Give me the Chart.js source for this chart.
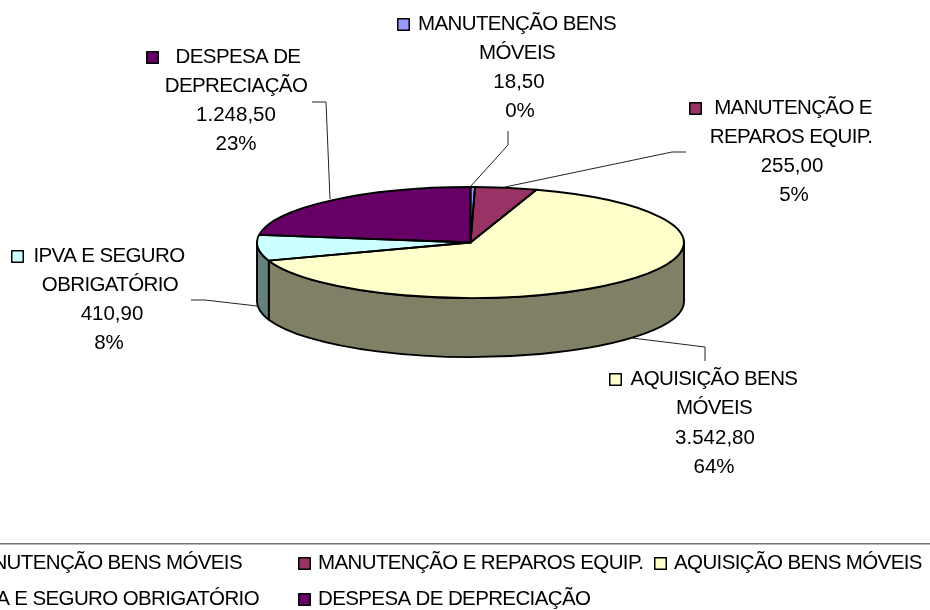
<!DOCTYPE html>
<html>
<head>
<meta charset="utf-8">
<style>
  html, body { margin: 0; padding: 0; background: #fff; }
  #wrap { width: 930px; height: 610px; }
</style>
<script src="https://cdn.jsdelivr.net/npm/chart.js@4"></script>
</head>
<body>
<div id="wrap"><canvas id="pieChart" width="930" height="610"></canvas></div>
<script>
const categories = ['MANUTENÇÃO BENS MÓVEIS', 'MANUTENÇÃO E REPAROS EQUIP.', 'AQUISIÇÃO BENS MÓVEIS', 'IPVA E SEGURO OBRIGATÓRIO', 'DESPESA DE DEPRECIAÇÃO'];
const values = [18.5, 255, 3542.8, 410.9, 1248.5];
const percents = ['0%', '5%', '64%', '8%', '23%'];
const colors = ['#9999FF', '#993366', '#FFFFCC', '#CCFFFF', '#660066'];
const sideColors = ['#4D4D80', '#4D1A33', '#808066', '#668080', '#330033'];

const FONT = '20.5px "Liberation Sans", Arial, sans-serif';
const CAPS_SPACING = '-0.62px';  // the caps sit tighter than the digits in the original
const SQUASH = 55.5 / 213.5;   // flatten the circle into the tilted ellipse
const DEPTH = 59;
const TOP_Y = 242.5;
const OUTLINE = 1.9;

// wrapped label lines, key box and leader line for every slice
const labelBoxes = [
  { lines: [['MANUTENÇÃO BENS', 517, 30], ['MÓVEIS', 517, 59]], num: [519, 88], pct: [520, 117], key: [397, 18], leader: [[508, 131], [508, 145], [470, 187]] },
  { lines: [['MANUTENÇÃO E', 793, 114], ['REPAROS EQUIP.', 791, 143]], num: [792, 172], pct: [794, 201], key: [689, 102], leader: [[686, 152], [672, 152], [505, 187]] },
  { lines: [['AQUISIÇÃO BENS', 714, 385], ['MÓVEIS', 714, 414]], num: [715, 444], pct: [714, 473], key: [609, 373], leader: [[705, 361], [705, 347], [632, 338]] },
  { lines: [['IPVA E SEGURO', 109, 262], ['OBRIGATÓRIO', 110, 291]], num: [112, 320], pct: [109, 349], key: [11, 250], leader: [[191, 300], [205, 300], [257, 306]] },
  { lines: [['DESPESA DE', 238, 63], ['DEPRECIAÇÃO', 236, 92]], num: [236, 121], pct: [236, 150], key: [146, 51], leader: [[312, 102], [326, 102], [330, 199]] }
];
const legendRows = [
  { key: null, textRight: 242, y: 569 },
  { key: 298, text: 318, y: 569 },
  { key: 654, text: 674, y: 569 },
  { key: null, textRight: 259, y: 605 },
  { key: 298, text: 318, y: 605 }
];

function formatValue(v) {
  return v.toLocaleString('pt-BR', { minimumFractionDigits: 2, maximumFractionDigits: 2 });
}

function drawKey(ctx, x, y, color) {
  ctx.fillStyle = color;
  ctx.strokeStyle = '#000';
  ctx.lineWidth = 1.5;
  ctx.fillRect(x + 0.75, y + 0.75, 11.5, 11.5);
  ctx.strokeRect(x + 0.75, y + 0.75, 11.5, 11.5);
}

// side wall of the disc, only the part facing the viewer (canvas angles 0..PI)
function drawSide(ctx, arc, color) {
  const a0 = Math.max(arc.startAngle, 0);
  const a1 = Math.min(arc.endAngle, Math.PI);
  if (a1 <= a0) return;
  const r = arc.outerRadius, ry = r * SQUASH;
  ctx.beginPath();
  ctx.ellipse(arc.x, TOP_Y, r, ry, 0, a0, a1);
  ctx.ellipse(arc.x, TOP_Y + DEPTH, r, ry, 0, a1, a0, true);
  ctx.closePath();
  ctx.fillStyle = color;
  ctx.fill();
  ctx.lineWidth = OUTLINE;
  ctx.strokeStyle = '#000';
  ctx.lineJoin = 'round';
  ctx.stroke();
}

const pie3d = {
  id: 'pie3d',
  beforeDatasetsDraw(chart) {
    const ctx = chart.ctx;
    const arcs = chart.getDatasetMeta(0).data;
    arcs.forEach((arc, i) => drawSide(ctx, arc, sideColors[i]));
    // top face: the library draws its arcs through this transform
    ctx.save();
    ctx.translate(0, TOP_Y);
    ctx.scale(1, SQUASH);
    ctx.translate(0, -arcs[0].y);
  },
  afterDatasetsDraw(chart) {
    const ctx = chart.ctx;
    ctx.restore();
    const arcs = chart.getDatasetMeta(0).data;
    arcs.forEach(arc => {
      const r = arc.outerRadius;
      ctx.beginPath();
      ctx.moveTo(arc.x, TOP_Y);
      ctx.ellipse(arc.x, TOP_Y, r, r * SQUASH, 0, arc.startAngle, arc.endAngle);
      ctx.closePath();
      ctx.lineWidth = OUTLINE;
      ctx.strokeStyle = '#000';
      ctx.lineJoin = 'round';
      ctx.stroke();
    });
    drawLabels(chart);
    drawLegend(chart);
  }
};

function drawLabels(chart) {
  const ctx = chart.ctx;
  ctx.save();
  ctx.font = FONT;
  ctx.textBaseline = 'alphabetic';
  labelBoxes.forEach((box, i) => {
    ctx.beginPath();
    box.leader.forEach((p, n) => n ? ctx.lineTo(p[0], p[1]) : ctx.moveTo(p[0], p[1]));
    ctx.lineWidth = 1;
    ctx.strokeStyle = '#222';
    ctx.stroke();
    drawKey(ctx, box.key[0], box.key[1], colors[i]);
    ctx.fillStyle = '#000';
    ctx.textAlign = 'center';
    ctx.letterSpacing = CAPS_SPACING;
    box.lines.forEach(l => ctx.fillText(l[0], l[1], l[2]));
    ctx.letterSpacing = '0px';
    ctx.fillText(formatValue(values[i]), box.num[0], box.num[1]);
    ctx.fillText(percents[i], box.pct[0], box.pct[1]);
  });
  ctx.restore();
}

function drawLegend(chart) {
  const ctx = chart.ctx;
  ctx.save();
  ctx.fillStyle = '#707070';
  ctx.fillRect(0, 543, 930, 1.5);
  ctx.font = FONT;
  ctx.letterSpacing = CAPS_SPACING;
  legendRows.forEach((row, i) => {
    if (row.key !== null) drawKey(ctx, row.key, row.y - 12, colors[i]);
    ctx.fillStyle = '#000';
    if (row.textRight) {
      ctx.textAlign = 'right';
      ctx.fillText(categories[i], row.textRight, row.y);
    } else {
      ctx.textAlign = 'left';
      ctx.fillText(categories[i], row.text, row.y);
    }
  });
  ctx.restore();
}

const ctx = document.getElementById('pieChart').getContext('2d');
new Chart(ctx, {
  type: 'pie',
  data: {
    labels: categories,
    datasets: [{ data: values, backgroundColor: colors, borderWidth: 0, clip: false }]
  },
  options: {
    responsive: false,
    animation: false,
    layout: { padding: { left: 257, right: 246, top: 20, bottom: 163 } },
    plugins: { legend: { display: false }, tooltip: { enabled: false } }
  },
  plugins: [pie3d]
});
</script>
</body>
</html>
